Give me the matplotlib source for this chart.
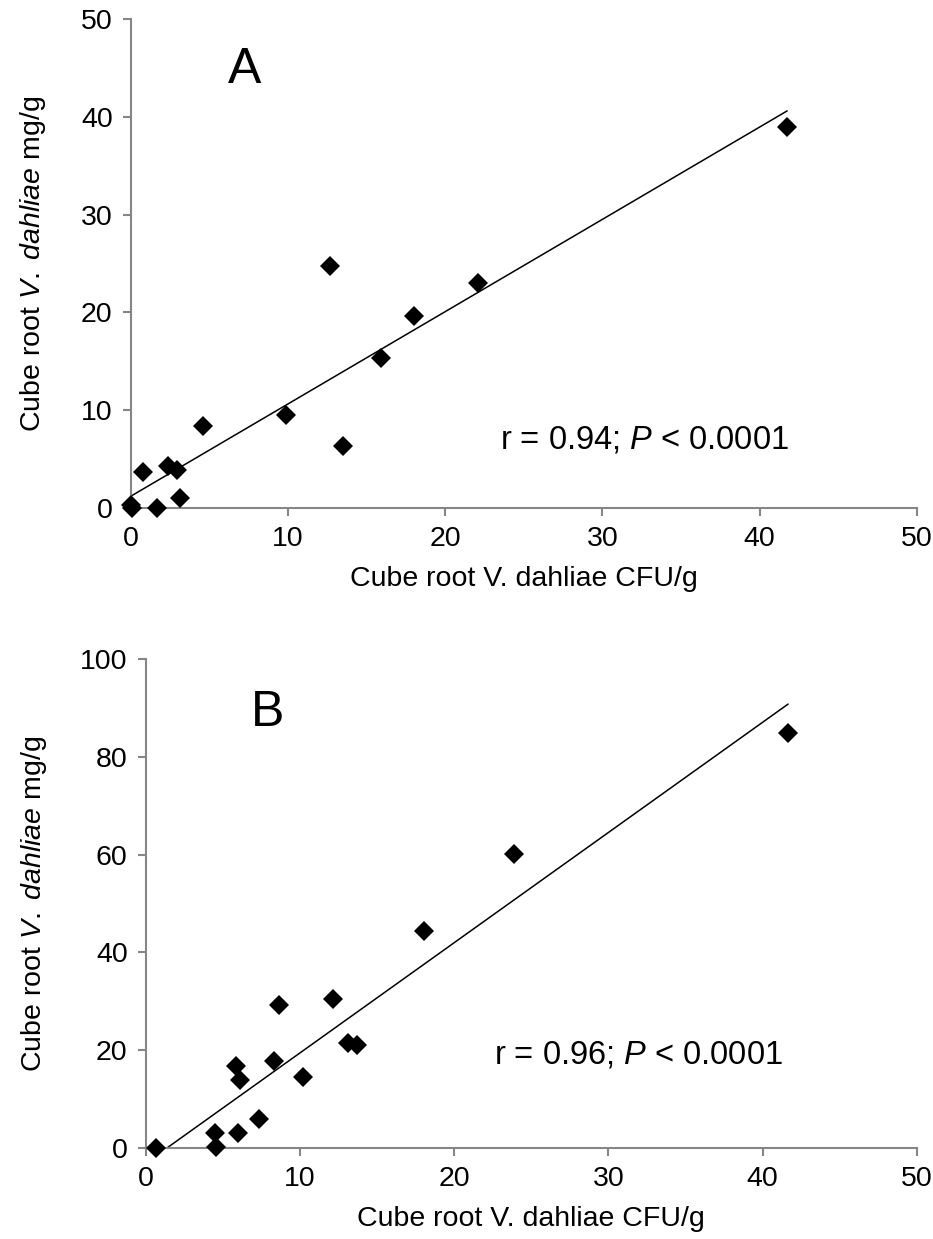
import numpy as np
import matplotlib.pyplot as plt

plt.rcParams['font.family'] = ['Liberation Sans', 'DejaVu Sans']
plt.rcParams['mathtext.fontset'] = 'custom'
plt.rcParams['mathtext.rm'] = 'Liberation Sans'
plt.rcParams['mathtext.it'] = 'Liberation Sans:italic'

# panel A: cube root CFU/g vs cube root mg/g
cfu_a = [0.0, 0.1, 1.69, 0.8, 2.39, 2.93, 3.14, 4.58, 9.88, 12.7, 13.5, 15.9, 18.0, 22.1, 41.73]
mg_a = [0.3, 0.0, 0.0, 3.7, 4.3, 3.9, 1.05, 8.4, 9.5, 24.7, 6.3, 15.3, 19.6, 23.0, 39.0]

# panel B
cfu_b = [0.67, 4.49, 4.56, 5.96, 7.35, 5.83, 6.12, 8.32, 10.22, 8.67, 12.12, 13.14, 13.73, 23.88, 18.05, 41.63]
mg_b = [0.0, 3.1, 0.3, 3.0, 5.9, 16.8, 13.9, 17.7, 14.6, 29.2, 30.5, 21.5, 21.1, 60.06, 44.4, 84.8]

r_a = 0.94
r_b = 0.96

W, H = 933, 1239
fig = plt.figure(figsize=(W / 100, H / 100), dpi=100)

def axes_px(left, top, right, bottom):
    return fig.add_axes([left / W, 1 - bottom / H, (right - left) / W, (bottom - top) / H])

ax_a = axes_px(130.7, 19, 917, 508)
ax_b = axes_px(145.7, 659, 917, 1148)

grey = '#868686'
panels = [
    (ax_a, cfu_a, mg_a, 50, 10, 'A', (6.2, 44.8), r_a, (23.5, 7.0), -0.105),
    (ax_b, cfu_b, mg_b, 100, 20, 'B', (6.8, 89.0), r_b, (22.6, 19.0), -0.126),
]

for ax, x, y, ymax, ystep, letter, lpos, r, rpos, ylab_x in panels:
    x = np.array(x)
    y = np.array(y)
    ax.plot(x, y, 'D', color='black', markersize=10.5, markeredgewidth=0,
            zorder=3, clip_on=False)

    # linear trend over the data range
    slope, icpt = np.polyfit(x, y, 1)
    xs = np.array([x.min(), x.max()])
    ax.plot(xs, slope * xs + icpt, color='black', lw=1.1, zorder=2)

    ax.set_xlim(0, 50)
    ax.set_ylim(0, ymax)
    ax.set_xticks(np.arange(0, 51, 10))
    ax.set_yticks(np.arange(0, ymax + 1, ystep))
    for s in ['top', 'right']:
        ax.spines[s].set_visible(False)
    for s in ['left', 'bottom']:
        ax.spines[s].set_color(grey)
        ax.spines[s].set_linewidth(1.5)
    ax.tick_params(direction='out', length=6, width=1.5, color=grey,
                   labelsize=20.5, pad=7)

    ax.set_xlabel('Cube root V. dahliae CFU/g', fontsize=20.5, labelpad=10)
    ax.set_ylabel(r'Cube root $\it{V.\ dahliae}$ mg/g', fontsize=20.5)
    ax.yaxis.set_label_coords(ylab_x, 0.5)

    ax.text(lpos[0], lpos[1], letter, fontsize=36, ha='left', va='center')
    ax.text(rpos[0], rpos[1], r'r = %.2f; $\it{P}$ < 0.0001' % r,
            fontsize=23.5, ha='left', va='center')

fig.savefig('out.png', dpi=100)
